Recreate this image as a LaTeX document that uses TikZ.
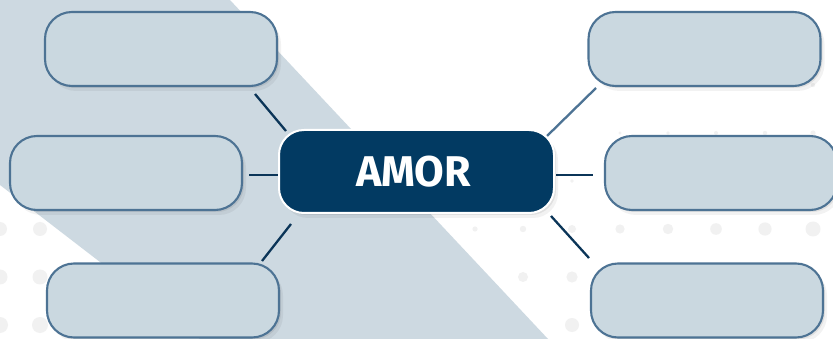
\documentclass[tikz,border=0pt]{standalone}
\usepackage{fontspec}
\newfontfamily\amorfont{Fira Sans}
\usetikzlibrary{shadows}
\definecolor{bandcol}{HTML}{CDD9E1}
\definecolor{boxfill}{HTML}{CAD8E0}
\definecolor{boxedge}{HTML}{4D7394}
\definecolor{navy}{HTML}{023A62}
\definecolor{linkcol}{HTML}{0B3558}
\definecolor{dotcol}{HTML}{F1F1F1}
\tikzset{
  softshadow/.style={
    general shadow={shadow xshift=2pt, shadow yshift=-2pt, fill=black, opacity=0.07},
    general shadow={shadow xshift=4pt, shadow yshift=-5pt, fill=black, opacity=0.05}},
  ideabox/.style={draw=boxedge, fill=boxfill, line width=2.1pt, rounded corners=27pt,
    minimum width=232pt, minimum height=74pt, inner sep=0pt, softshadow},
  corebox/.style={draw=white, fill=navy, line width=2pt, rounded corners=25pt,
    minimum width=275pt, minimum height=83pt, inner sep=0pt, softshadow,
    text=white, font=\amorfont\bfseries\fontsize{43}{43}\selectfont},
  link/.style={draw=linkcol, line width=2.3pt},
  dotmark/.style={fill=dotcol, draw=none}
}
\begin{document}
\begin{tikzpicture}[x=1pt,y=-1pt]
\useasboundingbox (0,0) rectangle (833,339);
\fill[white] (0,0) rectangle (833,339);
% background dots
\foreach \px/\py/\r in {
  813/85/2.2,
  620/133/1.6, 668/133/1.8, 716/133/2, 765/133/2.2, 813/133/2.6,
  572/181/1.8,
  475/229/2.6, 523/229/3.2, 572/229/4, 620/229/4.6, 668/229/5.2, 716/229/5.8, 765/229/6.6, 813/229/7.5,
  523/277/5, 572/277/5.6,
  475/325/6.5, 572/325/7,
  0/229/7, 40/229/7, 0/277/7.5, 40/277/7.5, 0/325/8, 40/325/8}
  \fill[dotmark] (\px,\py) circle[radius=\r pt];
% diagonal band
\fill[bandcol] (0,0) -- (230,0) -- (548,339) -- (200,339) -- (0,185) -- cycle;
% connector end points
\coordinate (tlA) at (255,94);  \coordinate (tlB) at (286,131);
\coordinate (mlA) at (249,175); \coordinate (mlB) at (278,175);
\coordinate (blA) at (262,261); \coordinate (blB) at (291,224);
\coordinate (trA) at (547,136); \coordinate (trB) at (596,88);
\coordinate (mrA) at (556,175); \coordinate (mrB) at (593,175);
\coordinate (brA) at (551,216); \coordinate (brB) at (589,258);
\draw[link] (tlA) -- (tlB);
\draw[link] (mlA) -- (mlB);
\draw[link] (blA) -- (blB);
\draw[link, draw=boxedge] (trA) -- (trB);
\draw[link] (mrA) -- (mrB);
\draw[link] (brA) -- (brB);
% boxes
\node[ideabox] (tl) at (161,49) {};
\node[ideabox] (ml) at (126,173) {};
\node[ideabox] (bl) at (163,300.5) {};
\node[ideabox] (tr) at (704.5,49) {};
\node[ideabox] (mr) at (721,173) {};
\node[ideabox] (br) at (707,300.5) {};
\node[corebox] (core) at (416.5,171.5) {\raisebox{1pt}{AMOR}\hspace*{6pt}};
\end{tikzpicture}
\end{document}
